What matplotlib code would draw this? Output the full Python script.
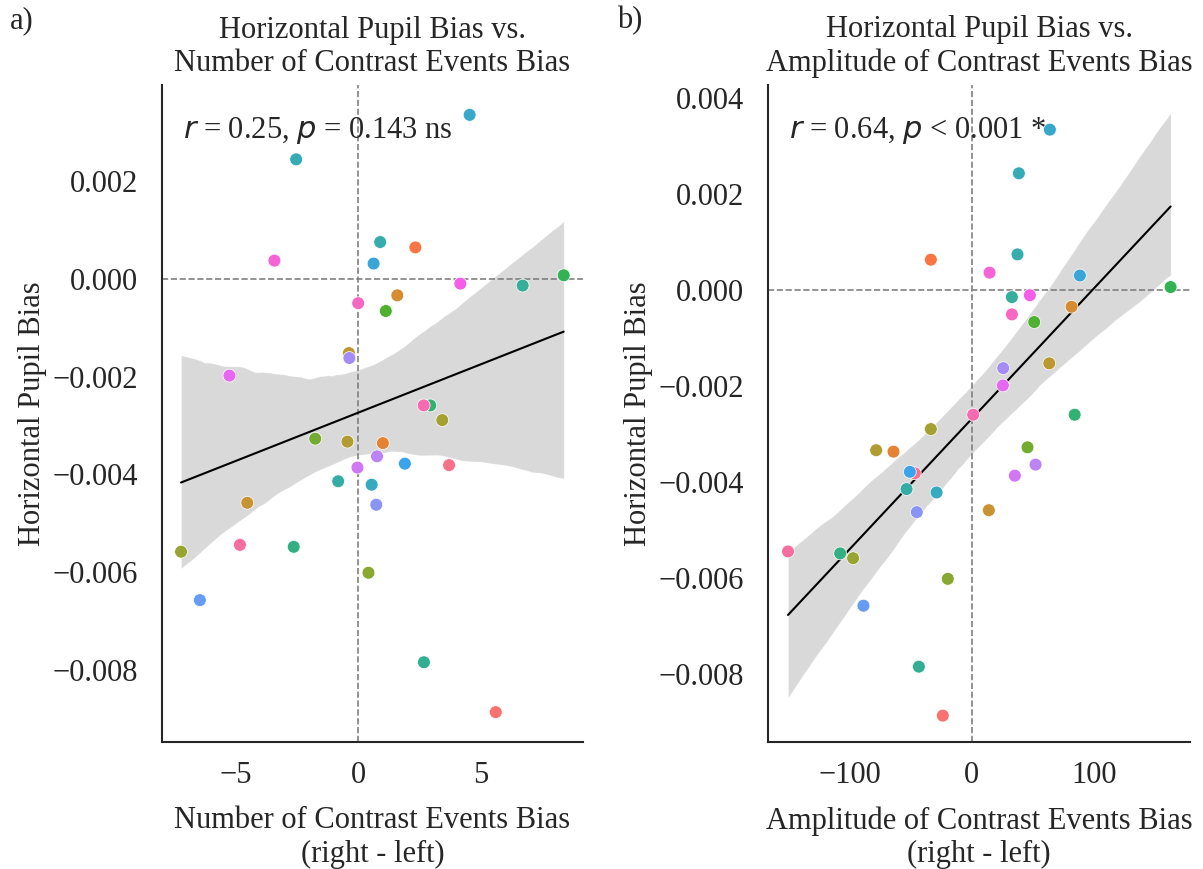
import numpy as np
import matplotlib
matplotlib.use('Agg')
import matplotlib.pyplot as plt
import seaborn as sns

# one entry per subject, ordered as the husl hue palette
num_bias = [3.72, 5.63, 2.34, 1.01, 1.60, -4.54, -0.38, -0.44, 3.44, -7.25,
            0.42, -1.76, 1.13, 8.41, 2.95, -2.64, 2.69, 6.73, -0.82, 0.90,
            -2.54, 0.55, 4.56, 0.63, 1.91, -6.48, 0.74, -0.36, 0.77, -0.03,
            -5.27, 4.18, -3.43, 0.00, 2.68, -4.84]
amp_bias = [-46.7, -23.8, -33.6, -64.2, 81.7, 13.9, 63.4, -78.4, -33.6, -97.3,
            -19.7, 45.6, 51.1, 162.8, 84.2, -107.9, -43.4, 32.8, -53.5, 37.4,
            38.5, -28.9, 63.9, 88.5, -50.8, -88.8, -45.1, 25.7, 52.2, 35.2,
            25.4, 47.5, 14.5, 32.8, 1.1, -150.6]
pupil_bias = [-0.00381, -0.00886, 0.00064, -0.00336, -0.00034, -0.00458, -0.00152,
              -0.00333, -0.00289, -0.00558, -0.00601, -0.00327, -0.00066, 0.00007,
              -0.00259, -0.00548, -0.00784, -0.00014, -0.00414, 0.00075, 0.00244,
              -0.00421, 0.00335, 0.00031, -0.00378, -0.00657, -0.00462, -0.00162,
              -0.00363, -0.00386, -0.00198, -0.00010, 0.00037, -0.00050, -0.00259,
              -0.00544]

titles = ['Horizontal Pupil Bias vs.\nNumber of Contrast Events Bias',
          'Horizontal Pupil Bias vs.\nAmplitude of Contrast Events Bias']
xlabels = ['Number of Contrast Events Bias\n(right - left)',
           'Amplitude of Contrast Events Bias\n(right - left)']
stats = ['$r$ = 0.25, $p$ = 0.143 ns', '$r$ = 0.64, $p$ < 0.001 *']
letters = ['a)', 'b)']


def main():
    sns.set_style('white')
    plt.rcParams['font.family'] = ['Liberation Serif', 'DejaVu Sans']
    plt.rcParams['font.size'] = 22
    plt.rcParams['axes.linewidth'] = 1.5
    plt.rcParams['axes.edgecolor'] = '.15'

    fig = plt.figure(figsize=(12.03, 8.69), dpi=100)
    ax1 = fig.add_axes([162 / 1203, 127 / 869, 421 / 1203, 657 / 869])
    ax2 = fig.add_axes([768 / 1203, 127 / 869, 422 / 1203, 657 / 869])
    pal = sns.color_palette('husl', len(pupil_bias))
    y = np.array(pupil_bias)

    for i, (ax, xs) in enumerate([(ax1, num_bias), (ax2, amp_bias)]):
        x = np.array(xs)
        sns.regplot(x=x, y=y, ax=ax, scatter=False, color='black', seed=3,
                    line_kws={'lw': 1.5})
        ax.scatter(x, y, c=pal, s=85, edgecolors='white', linewidths=0.5, zorder=3)
        ax.axhline(0, color='gray', ls='--', lw=1.2, zorder=1)
        ax.axvline(0, color='gray', ls='--', lw=1.2, zorder=1)
        ax.set_title(titles[i], fontsize=22, pad=10, color='.15')
        ax.set_xlabel(xlabels[i], fontsize=22, color='.15', labelpad=12)
        ax.set_ylabel('Horizontal Pupil Bias', fontsize=22, color='.15', labelpad=4)
        ax.tick_params(axis='x', labelsize=22, colors='.15', pad=10)
        ax.tick_params(axis='y', labelsize=22, colors='.15', pad=14)
        ax.text(0.05, 0.93, stats[i], transform=ax.transAxes, fontsize=22,
                va='center', color='.15')
        sns.despine(ax=ax)

    ax1.set_xlim(-8.03, 9.2)
    ax1.set_ylim(-0.00947, 0.00396)
    ax2.set_xlim(-167, 178.7)
    ax2.set_ylim(-0.00941, 0.00428)

    fig.text(10 / 1203, 1 - 21 / 869, letters[0], fontsize=22, va='center', color='.15')
    fig.text(617 / 1203, 1 - 21 / 869, letters[1], fontsize=22, va='center', color='.15')

    plt.savefig('out.png', dpi=100)


if __name__ == '__main__':
    main()
